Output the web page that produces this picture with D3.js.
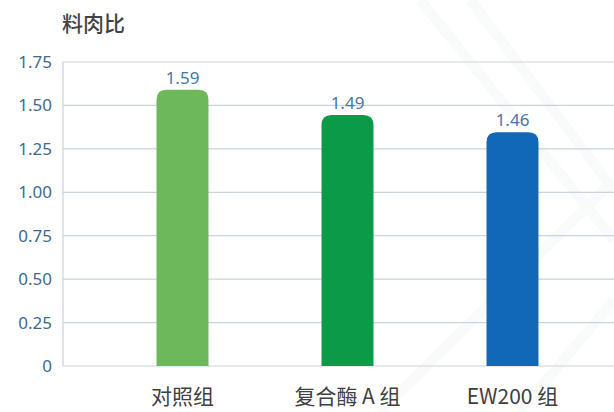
<!DOCTYPE html>
<html>
<head>
<meta charset="utf-8">
<script src="https://cdn.jsdelivr.net/npm/d3@7"></script>
<style>
  body { margin: 0; background: #fff; }
  svg { display: block; font-family: "Noto Sans CJK SC", "Noto Sans", sans-serif; }
</style>
</head>
<body>
<div id="chart"></div>
<script>
// data
const categories = ['对照组', '复合酶 A 组', 'EW200 组'];
const labelValues = [1.59, 1.49, 1.46];   // printed above bars
const barValues = [1.59, 1.445, 1.345];   // heights as drawn in the picture
const barColors = ['#6cb85a', '#0b9a47', '#1168b8'];
const yTicks = [0, 0.25, 0.5, 0.75, 1.0, 1.25, 1.5, 1.75];

const width = 614, height = 412;
const margin = { top: 62, right: 0, bottom: 46, left: 63 };

const svg = d3.select('#chart')
    .append('svg')
    .attr('width', width)
    .attr('height', height);

// faint background streaks
const bg = svg.append('g').attr('opacity', 0.35);
[[420, 0, 614, 240], [470, 0, 614, 190], [520, 412, 614, 300], [380, 412, 614, 180]].forEach(s => {
    bg.append('line')
        .attr('x1', s[0]).attr('y1', s[1]).attr('x2', s[2]).attr('y2', s[3])
        .attr('stroke', '#eef1f3').attr('stroke-width', 10);
});

// scales
const y = d3.scaleLinear().domain([0, 1.75]).range([height - margin.bottom, margin.top]);
const x = d3.scaleBand()
    .domain(categories)
    .range([100, 595])
    .paddingInner(0.685)
    .paddingOuter(0.3425);

// grid lines
svg.append('g')
    .selectAll('line')
    .data(yTicks)
    .join('line')
    .attr('x1', margin.left)
    .attr('x2', width)
    .attr('y1', d => y(d))
    .attr('y2', d => y(d))
    .attr('stroke', '#c9d3d9')
    .attr('stroke-width', 1.2);

// left axis line
svg.append('line')
    .attr('x1', margin.left).attr('x2', margin.left)
    .attr('y1', y(1.75)).attr('y2', y(0))
    .attr('stroke', '#c9d3d9')
    .attr('stroke-width', 1.2);

// y axis labels
const yAxis = d3.axisLeft(y)
    .tickValues(yTicks)
    .tickSize(0)
    .tickPadding(11)
    .tickFormat(d => d === 0 ? '0' : d3.format('.2f')(d));

const yAxisGroup = svg.append('g')
    .attr('transform', `translate(${margin.left}, 0)`)
    .call(yAxis);
yAxisGroup.select('.domain').remove();
yAxisGroup.selectAll('text')
    .attr('fill', '#426a8e')
    .attr('font-size', 17)
    .attr('font-family', '"Noto Sans", sans-serif');

// bars with rounded top
const r = 10;
const barPath = (d, i) => {
    const x0 = x(categories[i]), w = x.bandwidth();
    const y0 = y(d), y1 = y(0);
    return `M${x0},${y1}V${y0 + r}Q${x0},${y0} ${x0 + r},${y0}H${x0 + w - r}Q${x0 + w},${y0} ${x0 + w},${y0 + r}V${y1}Z`;
};

svg.append('g')
    .selectAll('path')
    .data(barValues)
    .join('path')
    .attr('d', barPath)
    .attr('fill', (d, i) => barColors[i]);

// value labels
svg.append('g')
    .selectAll('text')
    .data(labelValues)
    .join('text')
    .attr('x', (d, i) => x(categories[i]) + x.bandwidth() / 2)
    .attr('y', (d, i) => y(barValues[i]) - 6)
    .attr('text-anchor', 'middle')
    .attr('fill', '#4478ac')
    .attr('font-size', 17)
    .attr('font-family', '"Noto Sans", sans-serif')
    .text(d => d3.format('.2f')(d));

// category labels
svg.append('g')
    .selectAll('text')
    .data(categories)
    .join('text')
    .attr('x', d => x(d) + x.bandwidth() / 2)
    .attr('y', 404)
    .attr('text-anchor', 'middle')
    .attr('fill', '#404040')
    .attr('font-size', 21)
    .text(d => d);

// title
svg.append('text')
    .attr('x', 62)
    .attr('y', 31)
    .attr('fill', '#444')
    .attr('font-size', 21)
    .attr('font-weight', 500)
    .text('料肉比');
</script>
</body>
</html>
